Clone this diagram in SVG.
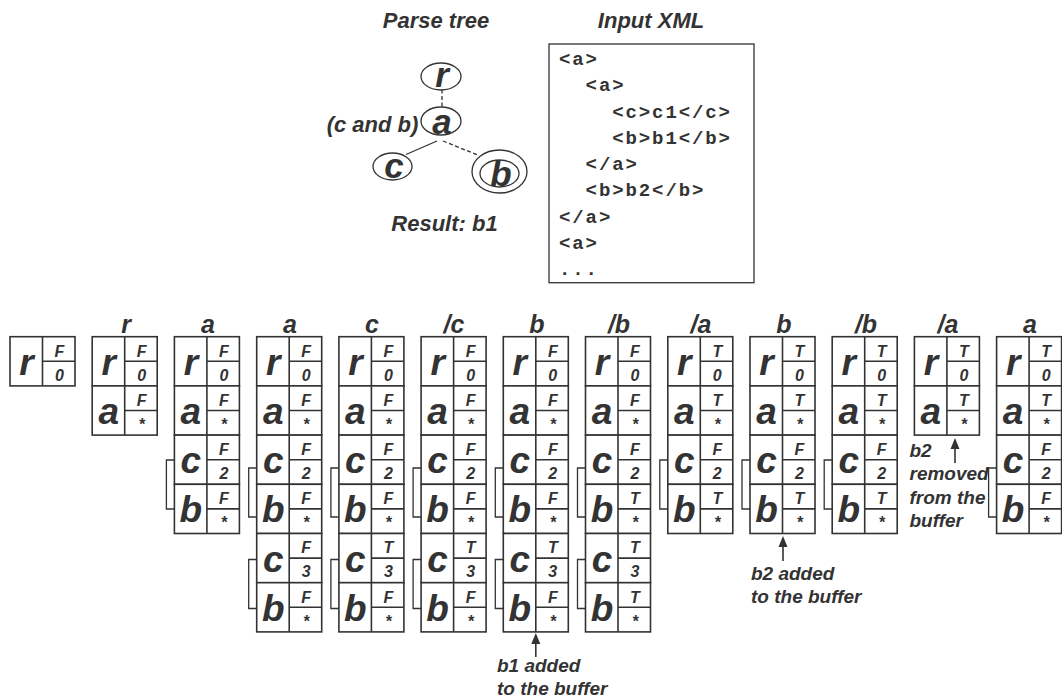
<svg xmlns="http://www.w3.org/2000/svg" xmlns:xlink="http://www.w3.org/1999/xlink" width="1062" height="698" viewBox="0 0 1062 698">
<style>
text{font-family:"Liberation Sans",Arial,sans-serif;font-weight:bold;font-style:italic;fill:#333;}
.title{font-size:22px;text-anchor:middle;}
.lbl{font-size:25px;text-anchor:middle;}
.big{font-size:37px;text-anchor:middle;}
.sm{font-size:16px;text-anchor:middle;}
.node{font-size:35px;text-anchor:middle;}
.ann{font-size:19px;}
.code{font-family:"Liberation Mono","Courier New",monospace;font-style:normal;font-size:19px;letter-spacing:1.9px;}
.cell rect,.cell line{fill:#fff;stroke:#333;stroke-width:1.6;}
.br{fill:none;stroke:#333;stroke-width:1.3;}
.edge{stroke:#333;stroke-width:1.3;fill:none;}
.dash{stroke-dasharray:4,2.5;}
.ell{fill:#fff;stroke:#333;stroke-width:1.3;}
.arr{stroke:#333;stroke-width:1.6;fill:none;}
.ah{fill:#333;}
</style>
<defs>
<g id="row" class="cell"><rect x="0" y="0" width="65" height="49.2"/><line x1="32.5" y1="0" x2="32.5" y2="49.2"/><line x1="32.5" y1="24.6" x2="65" y2="24.6"/></g>
</defs>
<rect width="1062" height="698" fill="#fff"/>

<!-- Parse tree -->
<text class="title" x="436" y="28">Parse tree</text>
<text class="title" x="651" y="28">Input XML</text>
<g id="connectors">
<line class="edge dash" x1="442" y1="89.5" x2="442" y2="107.3"/>
<line class="edge" x1="437" y1="141" x2="406" y2="154.5"/>
<line class="edge dash" x1="443" y1="141" x2="479" y2="155.5"/>
<line class="arr" x1="535.8" y1="657" x2="535.8" y2="642"/><path class="ah" d="M535.8,633 L540.3,644 L531.3,644 Z"/>
<line class="arr" x1="783" y1="561" x2="783" y2="545"/><path class="ah" d="M783,536 L787.5,547 L778.5,547 Z"/>
<line class="arr" x1="955" y1="463" x2="955" y2="447"/><path class="ah" d="M955,438 L959.5,449 L950.5,449 Z"/>
</g>
<g id="node-r"><ellipse class="ell" cx="441" cy="76.5" rx="20" ry="13.5"/><text class="node" x="442" y="87">r</text></g>
<g id="node-a"><ellipse class="ell" cx="441" cy="121" rx="20" ry="14"/><text class="node" x="442" y="134">a</text><text class="title" x="372.5" y="131.5">(c and b)</text></g>
<g id="node-c"><ellipse class="ell" cx="392.5" cy="166.5" rx="19.5" ry="13.5"/><text class="node" x="394" y="177.5">c</text></g>
<g id="node-b"><ellipse class="ell" cx="499.5" cy="171.5" rx="27.5" ry="21.5"/><ellipse class="ell" cx="499.5" cy="173.5" rx="19.5" ry="13.5"/><text class="node" x="501" y="186">b</text></g>
<text class="title" x="444.5" y="231">Result: b1</text>

<!-- Input XML -->
<g id="xml">
<rect x="549" y="44" width="205" height="238.7" fill="#fff" stroke="#333" stroke-width="1.3"/>
<text class="code" x="559" y="65">&lt;a&gt;</text>
<text class="code" x="585.6" y="91.25">&lt;a&gt;</text>
<text class="code" x="612.2" y="117.5">&lt;c&gt;c1&lt;/c&gt;</text>
<text class="code" x="612.2" y="143.75">&lt;b&gt;b1&lt;/b&gt;</text>
<text class="code" x="585.6" y="170">&lt;/a&gt;</text>
<text class="code" x="585.6" y="196.25">&lt;b&gt;b2&lt;/b&gt;</text>
<text class="code" x="559" y="222.5">&lt;/a&gt;</text>
<text class="code" x="559" y="248.75">&lt;a&gt;</text>
<text class="code" x="559" y="275">...</text>
</g>

<!-- Stack 0 -->
<g id="s0">
<use xlink:href="#row" x="10" y="336.7"/>
<text class="big" x="26.5" y="374.7">r</text><text class="sm" x="59.5" y="356.5">F</text><text class="sm" x="59.5" y="380.5">0</text>
</g>
<!-- Stack 1 -->
<g id="s1">
<text class="lbl" x="126" y="333">r</text>
<use xlink:href="#row" x="92.2" y="336.7"/><use xlink:href="#row" x="92.2" y="385.9"/>
<text class="big" x="108.7" y="374.7">r</text><text class="sm" x="141.7" y="356.5">F</text><text class="sm" x="141.7" y="380.5">0</text>
<text class="big" x="108.7" y="423.9">a</text><text class="sm" x="141.7" y="405.7">F</text><text class="sm" x="141.7" y="429.7">*</text>
</g>
<!-- Stack 2 -->
<g id="s2">
<text class="lbl" x="208" y="333">a</text>
<use xlink:href="#row" x="174.4" y="336.7"/><use xlink:href="#row" x="174.4" y="385.9"/><use xlink:href="#row" x="174.4" y="435.1"/><use xlink:href="#row" x="174.4" y="484.3"/>
<text class="big" x="190.9" y="374.7">r</text><text class="sm" x="223.9" y="356.5">F</text><text class="sm" x="223.9" y="380.5">0</text>
<text class="big" x="190.9" y="423.9">a</text><text class="sm" x="223.9" y="405.7">F</text><text class="sm" x="223.9" y="429.7">*</text>
<text class="big" x="190.9" y="473.1">c</text><text class="sm" x="223.9" y="454.9">F</text><text class="sm" x="223.9" y="478.9">2</text>
<text class="big" x="190.9" y="522.3">b</text><text class="sm" x="223.9" y="504.1">F</text><text class="sm" x="223.9" y="528.1">*</text>
<path class="br" d="M174.4,460 H166.4 V509 H174.4"/>
</g>
<!-- Stack 3 -->
<g id="s3">
<text class="lbl" x="290" y="333">a</text>
<use xlink:href="#row" x="256.7" y="336.7"/><use xlink:href="#row" x="256.7" y="385.9"/><use xlink:href="#row" x="256.7" y="435.1"/><use xlink:href="#row" x="256.7" y="484.3"/><use xlink:href="#row" x="256.7" y="533.5"/><use xlink:href="#row" x="256.7" y="582.7"/>
<text class="big" x="273.2" y="374.7">r</text><text class="sm" x="306.2" y="356.5">F</text><text class="sm" x="306.2" y="380.5">0</text>
<text class="big" x="273.2" y="423.9">a</text><text class="sm" x="306.2" y="405.7">F</text><text class="sm" x="306.2" y="429.7">*</text>
<text class="big" x="273.2" y="473.1">c</text><text class="sm" x="306.2" y="454.9">F</text><text class="sm" x="306.2" y="478.9">2</text>
<text class="big" x="273.2" y="522.3">b</text><text class="sm" x="306.2" y="504.1">F</text><text class="sm" x="306.2" y="528.1">*</text>
<text class="big" x="273.2" y="571.5">c</text><text class="sm" x="306.2" y="553.3">F</text><text class="sm" x="306.2" y="577.3">3</text>
<text class="big" x="273.2" y="620.7">b</text><text class="sm" x="306.2" y="602.5">F</text><text class="sm" x="306.2" y="626.5">*</text>
<path class="br" d="M256.7,468 H248.7 V517 H256.7"/><path class="br" d="M256.7,559.5 H248.7 V608.5 H256.7"/>
</g>
<!-- Stack 4 -->
<g id="s4">
<text class="lbl" x="372" y="333">c</text>
<use xlink:href="#row" x="338.9" y="336.7"/><use xlink:href="#row" x="338.9" y="385.9"/><use xlink:href="#row" x="338.9" y="435.1"/><use xlink:href="#row" x="338.9" y="484.3"/><use xlink:href="#row" x="338.9" y="533.5"/><use xlink:href="#row" x="338.9" y="582.7"/>
<text class="big" x="355.4" y="374.7">r</text><text class="sm" x="388.4" y="356.5">F</text><text class="sm" x="388.4" y="380.5">0</text>
<text class="big" x="355.4" y="423.9">a</text><text class="sm" x="388.4" y="405.7">F</text><text class="sm" x="388.4" y="429.7">*</text>
<text class="big" x="355.4" y="473.1">c</text><text class="sm" x="388.4" y="454.9">F</text><text class="sm" x="388.4" y="478.9">2</text>
<text class="big" x="355.4" y="522.3">b</text><text class="sm" x="388.4" y="504.1">F</text><text class="sm" x="388.4" y="528.1">*</text>
<text class="big" x="355.4" y="571.5">c</text><text class="sm" x="388.4" y="553.3">T</text><text class="sm" x="388.4" y="577.3">3</text>
<text class="big" x="355.4" y="620.7">b</text><text class="sm" x="388.4" y="602.5">F</text><text class="sm" x="388.4" y="626.5">*</text>
<path class="br" d="M338.9,468 H330.9 V517 H338.9"/><path class="br" d="M338.9,559.5 H330.9 V608.5 H338.9"/>
</g>
<!-- Stack 5 -->
<g id="s5">
<text class="lbl" x="454" y="333">/c</text>
<use xlink:href="#row" x="421.1" y="336.7"/><use xlink:href="#row" x="421.1" y="385.9"/><use xlink:href="#row" x="421.1" y="435.1"/><use xlink:href="#row" x="421.1" y="484.3"/><use xlink:href="#row" x="421.1" y="533.5"/><use xlink:href="#row" x="421.1" y="582.7"/>
<text class="big" x="437.6" y="374.7">r</text><text class="sm" x="470.6" y="356.5">F</text><text class="sm" x="470.6" y="380.5">0</text>
<text class="big" x="437.6" y="423.9">a</text><text class="sm" x="470.6" y="405.7">F</text><text class="sm" x="470.6" y="429.7">*</text>
<text class="big" x="437.6" y="473.1">c</text><text class="sm" x="470.6" y="454.9">F</text><text class="sm" x="470.6" y="478.9">2</text>
<text class="big" x="437.6" y="522.3">b</text><text class="sm" x="470.6" y="504.1">F</text><text class="sm" x="470.6" y="528.1">*</text>
<text class="big" x="437.6" y="571.5">c</text><text class="sm" x="470.6" y="553.3">T</text><text class="sm" x="470.6" y="577.3">3</text>
<text class="big" x="437.6" y="620.7">b</text><text class="sm" x="470.6" y="602.5">F</text><text class="sm" x="470.6" y="626.5">*</text>
<path class="br" d="M421.1,468 H413.1 V517 H421.1"/><path class="br" d="M421.1,559.5 H413.1 V608.5 H421.1"/>
</g>
<!-- Stack 6 -->
<g id="s6">
<text class="lbl" x="537" y="333">b</text>
<use xlink:href="#row" x="503.3" y="336.7"/><use xlink:href="#row" x="503.3" y="385.9"/><use xlink:href="#row" x="503.3" y="435.1"/><use xlink:href="#row" x="503.3" y="484.3"/><use xlink:href="#row" x="503.3" y="533.5"/><use xlink:href="#row" x="503.3" y="582.7"/>
<text class="big" x="519.8" y="374.7">r</text><text class="sm" x="552.8" y="356.5">F</text><text class="sm" x="552.8" y="380.5">0</text>
<text class="big" x="519.8" y="423.9">a</text><text class="sm" x="552.8" y="405.7">F</text><text class="sm" x="552.8" y="429.7">*</text>
<text class="big" x="519.8" y="473.1">c</text><text class="sm" x="552.8" y="454.9">F</text><text class="sm" x="552.8" y="478.9">2</text>
<text class="big" x="519.8" y="522.3">b</text><text class="sm" x="552.8" y="504.1">F</text><text class="sm" x="552.8" y="528.1">*</text>
<text class="big" x="519.8" y="571.5">c</text><text class="sm" x="552.8" y="553.3">T</text><text class="sm" x="552.8" y="577.3">3</text>
<text class="big" x="519.8" y="620.7">b</text><text class="sm" x="552.8" y="602.5">F</text><text class="sm" x="552.8" y="626.5">*</text>
<path class="br" d="M503.3,468 H495.3 V517 H503.3"/><path class="br" d="M503.3,559.5 H495.3 V608.5 H503.3"/>
</g>
<!-- Stack 7 -->
<g id="s7">
<text class="lbl" x="619" y="333">/b</text>
<use xlink:href="#row" x="585.5" y="336.7"/><use xlink:href="#row" x="585.5" y="385.9"/><use xlink:href="#row" x="585.5" y="435.1"/><use xlink:href="#row" x="585.5" y="484.3"/><use xlink:href="#row" x="585.5" y="533.5"/><use xlink:href="#row" x="585.5" y="582.7"/>
<text class="big" x="602" y="374.7">r</text><text class="sm" x="635" y="356.5">F</text><text class="sm" x="635" y="380.5">0</text>
<text class="big" x="602" y="423.9">a</text><text class="sm" x="635" y="405.7">F</text><text class="sm" x="635" y="429.7">*</text>
<text class="big" x="602" y="473.1">c</text><text class="sm" x="635" y="454.9">F</text><text class="sm" x="635" y="478.9">2</text>
<text class="big" x="602" y="522.3">b</text><text class="sm" x="635" y="504.1">T</text><text class="sm" x="635" y="528.1">*</text>
<text class="big" x="602" y="571.5">c</text><text class="sm" x="635" y="553.3">T</text><text class="sm" x="635" y="577.3">3</text>
<text class="big" x="602" y="620.7">b</text><text class="sm" x="635" y="602.5">T</text><text class="sm" x="635" y="626.5">*</text>
<path class="br" d="M585.5,468 H577.5 V517 H585.5"/><path class="br" d="M585.5,559.5 H577.5 V608.5 H585.5"/>
</g>
<!-- Stack 8 -->
<g id="s8">
<text class="lbl" x="701" y="333">/a</text>
<use xlink:href="#row" x="667.8" y="336.7"/><use xlink:href="#row" x="667.8" y="385.9"/><use xlink:href="#row" x="667.8" y="435.1"/><use xlink:href="#row" x="667.8" y="484.3"/>
<text class="big" x="684.3" y="374.7">r</text><text class="sm" x="717.3" y="356.5">T</text><text class="sm" x="717.3" y="380.5">0</text>
<text class="big" x="684.3" y="423.9">a</text><text class="sm" x="717.3" y="405.7">T</text><text class="sm" x="717.3" y="429.7">*</text>
<text class="big" x="684.3" y="473.1">c</text><text class="sm" x="717.3" y="454.9">F</text><text class="sm" x="717.3" y="478.9">2</text>
<text class="big" x="684.3" y="522.3">b</text><text class="sm" x="717.3" y="504.1">T</text><text class="sm" x="717.3" y="528.1">*</text>
<path class="br" d="M667.8,460 H659.8 V509 H667.8"/>
</g>
<!-- Stack 9 -->
<g id="s9">
<text class="lbl" x="784" y="333">b</text>
<use xlink:href="#row" x="750" y="336.7"/><use xlink:href="#row" x="750" y="385.9"/><use xlink:href="#row" x="750" y="435.1"/><use xlink:href="#row" x="750" y="484.3"/>
<text class="big" x="766.5" y="374.7">r</text><text class="sm" x="799.5" y="356.5">T</text><text class="sm" x="799.5" y="380.5">0</text>
<text class="big" x="766.5" y="423.9">a</text><text class="sm" x="799.5" y="405.7">T</text><text class="sm" x="799.5" y="429.7">*</text>
<text class="big" x="766.5" y="473.1">c</text><text class="sm" x="799.5" y="454.9">F</text><text class="sm" x="799.5" y="478.9">2</text>
<text class="big" x="766.5" y="522.3">b</text><text class="sm" x="799.5" y="504.1">T</text><text class="sm" x="799.5" y="528.1">*</text>
<path class="br" d="M750,460 H742 V509 H750"/>
</g>
<!-- Stack 10 -->
<g id="s10">
<text class="lbl" x="866" y="333">/b</text>
<use xlink:href="#row" x="832.2" y="336.7"/><use xlink:href="#row" x="832.2" y="385.9"/><use xlink:href="#row" x="832.2" y="435.1"/><use xlink:href="#row" x="832.2" y="484.3"/>
<text class="big" x="848.7" y="374.7">r</text><text class="sm" x="881.7" y="356.5">T</text><text class="sm" x="881.7" y="380.5">0</text>
<text class="big" x="848.7" y="423.9">a</text><text class="sm" x="881.7" y="405.7">T</text><text class="sm" x="881.7" y="429.7">*</text>
<text class="big" x="848.7" y="473.1">c</text><text class="sm" x="881.7" y="454.9">F</text><text class="sm" x="881.7" y="478.9">2</text>
<text class="big" x="848.7" y="522.3">b</text><text class="sm" x="881.7" y="504.1">T</text><text class="sm" x="881.7" y="528.1">*</text>
<path class="br" d="M832.2,460 H824.2 V509 H832.2"/>
</g>
<!-- Stack 11 -->
<g id="s11">
<text class="lbl" x="948" y="333">/a</text>
<use xlink:href="#row" x="914.4" y="336.7"/><use xlink:href="#row" x="914.4" y="385.9"/>
<text class="big" x="930.9" y="374.7">r</text><text class="sm" x="963.9" y="356.5">T</text><text class="sm" x="963.9" y="380.5">0</text>
<text class="big" x="930.9" y="423.9">a</text><text class="sm" x="963.9" y="405.7">T</text><text class="sm" x="963.9" y="429.7">*</text>
</g>
<!-- Stack 12 -->
<g id="s12">
<text class="lbl" x="1030" y="333">a</text>
<use xlink:href="#row" x="996.6" y="336.7"/><use xlink:href="#row" x="996.6" y="385.9"/><use xlink:href="#row" x="996.6" y="435.1"/><use xlink:href="#row" x="996.6" y="484.3"/>
<text class="big" x="1013.1" y="374.7">r</text><text class="sm" x="1046.1" y="356.5">T</text><text class="sm" x="1046.1" y="380.5">0</text>
<text class="big" x="1013.1" y="423.9">a</text><text class="sm" x="1046.1" y="405.7">T</text><text class="sm" x="1046.1" y="429.7">*</text>
<text class="big" x="1013.1" y="473.1">c</text><text class="sm" x="1046.1" y="454.9">F</text><text class="sm" x="1046.1" y="478.9">2</text>
<text class="big" x="1013.1" y="522.3">b</text><text class="sm" x="1046.1" y="504.1">F</text><text class="sm" x="1046.1" y="528.1">*</text>
<path class="br" d="M996.6,468 H988.6 V517 H996.6"/>
</g>

<!-- Annotations -->
<g id="notes">
<text class="ann" x="497" y="671.7">b1 added</text>
<text class="ann" x="497" y="694.7">to the buffer</text>
<text class="ann" x="751" y="580">b2 added</text>
<text class="ann" x="751" y="603">to the buffer</text>
<text class="ann" x="909.5" y="457">b2</text>
<text class="ann" x="909.5" y="480.3">removed</text>
<text class="ann" x="909.5" y="503.6">from the</text>
<text class="ann" x="909.5" y="526.9">buffer</text>
</g>
</svg>
